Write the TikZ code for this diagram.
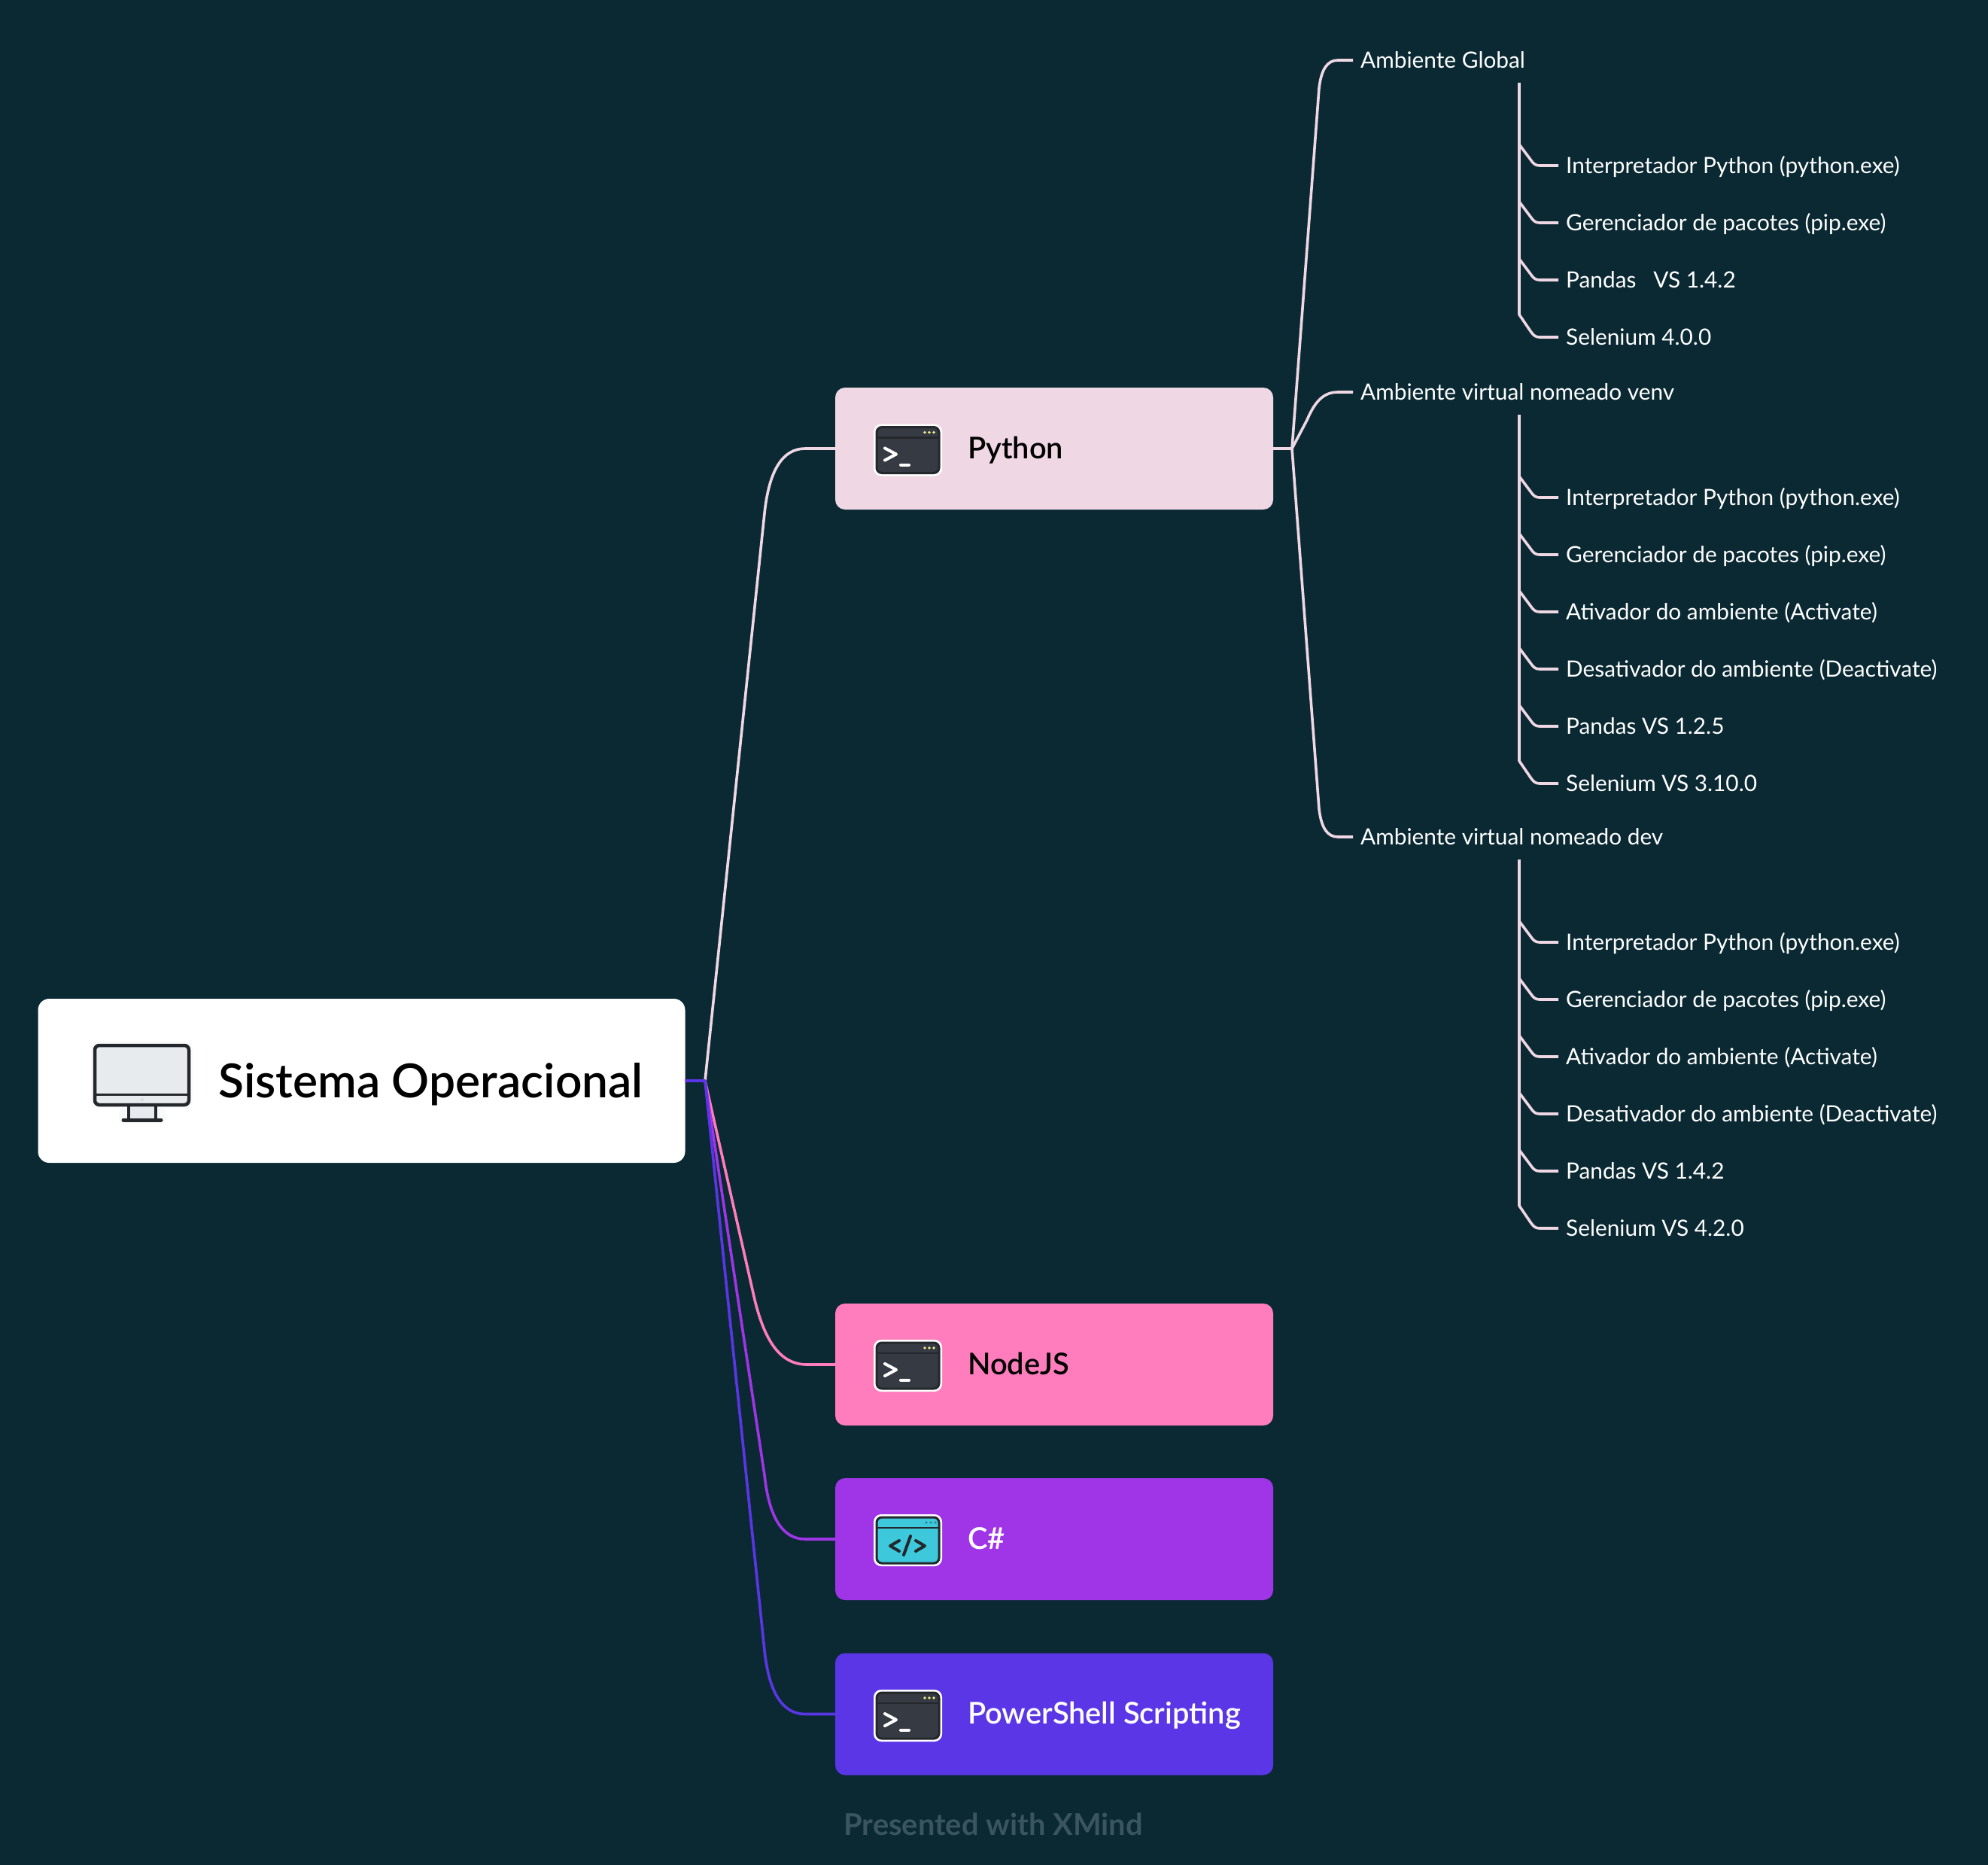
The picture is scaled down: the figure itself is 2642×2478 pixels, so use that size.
\documentclass[tikz,border=0pt]{standalone}
\usepackage{fontspec}
\setmainfont{Lato}
\newfontfamily\medfont{Lato Semibold}
\definecolor{bgdark}{HTML}{0A2933}
\definecolor{pythonc}{HTML}{EFD7E4}
\definecolor{nodec}{HTML}{FF7DBD}
\definecolor{csharpc}{HTML}{A035E8}
\definecolor{shellc}{HTML}{5B36E6}
\definecolor{iconink}{HTML}{24272C}
\definecolor{iconbody}{HTML}{363A42}
\definecolor{iconcyan}{HTML}{3DC8DC}
\definecolor{iconscreen}{HTML}{E8EBEE}
\definecolor{footc}{HTML}{3A5560}
\tikzset{
  topicbox/.style={rectangle, rounded corners=13pt, minimum width=582pt, minimum height=162pt, inner sep=0pt},
  topictext/.style={anchor=west, inner sep=0pt, font=\medfont\fontsize{39.8}{46}\selectfont, text height=28pt, text depth=0pt},
  leaftext/.style={anchor=west, inner xsep=10pt, inner ysep=0pt, text=white, font=\fontsize{29.8}{35}\selectfont, text height=21pt, text depth=0pt},
  linkline/.style={line width=3.6pt, line join=round},
}
\begin{document}
\begin{tikzpicture}[x=1pt,y=-1pt]
\useasboundingbox (0,0) rectangle (2642,2478);
\fill[bgdark] (0,0) rectangle (2642,2478);
% main boxes
\node[topicbox, fill=white, minimum width=860pt, minimum height=218pt, rounded corners=15pt] (root) at (480.5,1436) {};
\node[topicbox, fill=pythonc] (python) at (1401,596) {};
\node[topicbox, fill=nodec] (nodejs) at (1401,1813) {};
\node[topicbox, fill=csharpc] (csharp) at (1401,2045) {};
\node[topicbox, fill=shellc] (shell) at (1401,2277.5) {};
\coordinate (rootjoin) at (937,1436);
\coordinate (pyjoin) at (1717,596);
% root links
\draw[linkline, pythonc] (root.east) -- (rootjoin) -- (1016,682) .. controls (1022,625) and (1040,596) .. (1070,596) -- (python.west);
\draw[linkline, nodec] (root.east) -- (rootjoin) -- (1003,1727) .. controls (1016,1780) and (1036,1813) .. (1072,1813) -- (nodejs.west);
\draw[linkline, csharpc] (root.east) -- (rootjoin) -- (1016,1960) .. controls (1022,2016) and (1040,2045) .. (1070,2045) -- (csharp.west);
\draw[linkline, shellc] (root.east) -- (rootjoin) -- (1016,2193) .. controls (1022,2249) and (1040,2277.5) .. (1070,2277.5) -- (shell.west);
% titles
\node[anchor=west, inner sep=0pt, font=\medfont\fontsize{62.3}{72}\selectfont, text height=44pt, text depth=0pt] (roottext) at (290,1436) {Sistema Operacional};
\node[topictext] (pythontext) at (1286,595) {Python};
\node[topictext] (nodetext) at (1286,1812) {NodeJS};
\node[topictext, text=white] (csharptext) at (1286,2044) {C\#};
\node[topictext, text=white] (shelltext) at (1286,2276.5) {PowerShell Scripting};
\node[inner sep=0pt, text=footc, font=\bfseries\fontsize{39.8}{46}\selectfont] (footer) at (1320,2424) {Presented with XMind};
% monitor icon
\begin{scope}[shift={(126,1389)}]
\fill[white!97!iconink, rounded corners=10pt] (-5,-5) rectangle (130,84);
\fill[white!97!iconink, rounded corners=6pt] (32,84) rectangle (94,104);
\draw[line width=4.5pt, iconink, fill=iconscreen] (45,79) rectangle (81,99);
\draw[line width=4.5pt, iconink, fill=iconscreen, rounded corners=6pt] (0,0) rectangle (125,79);
\draw[line width=3pt, iconink] (0,65) -- (125,65);
\fill[black!15] (63,72) circle (2pt);
\draw[line width=5pt, iconink, line cap=round] (38,99) -- (88,99);
\end{scope}
% terminal icon python
\begin{scope}[shift={(1161,563.5)}]
\fill[white, rounded corners=10pt] (0,0) rectangle (91,69);
\draw[line width=3pt, iconink, fill=iconbody, rounded corners=7pt] (4,4) rectangle (87,65);
\draw[line width=2.5pt, iconink] (4,18) -- (87,18);
\fill[iconscreen!60!yellow] (68,11) circle (1.8pt) (74,11) circle (1.8pt) (80,11) circle (1.8pt);
\draw[line width=4pt, white, line cap=round, line join=round] (15,32) -- (30,40) -- (15,48);
\draw[line width=4pt, white, line cap=round] (36,54) -- (47,54);
\end{scope}
% terminal icon nodejs
\begin{scope}[shift={(1161,1780)}]
\fill[white, rounded corners=10pt] (0,0) rectangle (91,69);
\draw[line width=3pt, iconink, fill=iconbody, rounded corners=7pt] (4,4) rectangle (87,65);
\draw[line width=2.5pt, iconink] (4,18) -- (87,18);
\fill[iconscreen!60!yellow] (68,11) circle (1.8pt) (74,11) circle (1.8pt) (80,11) circle (1.8pt);
\draw[line width=4pt, white, line cap=round, line join=round] (15,32) -- (30,40) -- (15,48);
\draw[line width=4pt, white, line cap=round] (36,54) -- (47,54);
\end{scope}
% code icon csharp
\begin{scope}[shift={(1161,2012)}]
\fill[white, rounded corners=10pt] (0,0) rectangle (91,69);
\draw[line width=3pt, iconink, fill=iconcyan, rounded corners=7pt] (4,4) rectangle (87,65);
\draw[line width=2.5pt, iconink] (4,18) -- (87,18);
\fill[iconcyan!70!black] (70,11) circle (1.8pt) (76,11) circle (1.8pt) (82,11) circle (1.8pt);
\draw[line width=4pt, iconink, line cap=round, line join=round] (34,35) -- (22,42) -- (34,49);
\draw[line width=4pt, iconink, line cap=round] (49,29) -- (40,54);
\draw[line width=4pt, iconink, line cap=round, line join=round] (56,35) -- (68,42) -- (56,49);
\end{scope}
% terminal icon shell
\begin{scope}[shift={(1161,2245)}]
\fill[white, rounded corners=10pt] (0,0) rectangle (91,69);
\draw[line width=3pt, iconink, fill=iconbody, rounded corners=7pt] (4,4) rectangle (87,65);
\draw[line width=2.5pt, iconink] (4,18) -- (87,18);
\fill[iconscreen!60!yellow] (68,11) circle (1.8pt) (74,11) circle (1.8pt) (80,11) circle (1.8pt);
\draw[line width=4pt, white, line cap=round, line join=round] (15,32) -- (30,40) -- (15,48);
\draw[line width=4pt, white, line cap=round] (36,54) -- (47,54);
\end{scope}
% environment headers
\node[leaftext] (global) at (1798,80) {Ambiente Global};
\node[leaftext] (venv) at (1798,521) {Ambiente virtual nomeado venv};
\node[leaftext] (dev) at (1798,1112) {Ambiente virtual nomeado dev};
\draw[linkline, pythonc] (python.east) -- (pyjoin) -- (1753,117) .. controls (1756,92) and (1764,80) .. (1778,80) -- (global.west);
\draw[linkline, pythonc] (python.east) -- (pyjoin) -- (1737,558) .. controls (1748,532) and (1760,521) .. (1778,521) -- (venv.west);
\draw[linkline, pythonc] (python.east) -- (pyjoin) -- (1753,1075) .. controls (1756,1100) and (1764,1112) .. (1778,1112) -- (dev.west);
% global leaves
\node[leaftext] (ga) at (2071,220) {Interpretador Python (python.exe)};
\node[leaftext] (gb) at (2071,296) {Gerenciador de pacotes (pip.exe)};
\node[leaftext] (gc) at (2071,372) {Pandas\ \ \ VS 1.4.2};
\node[leaftext] (gd) at (2071,448) {Selenium 4.0.0};
\draw[linkline, pythonc] (2019,110) -- (2019,418) -- (2034,440) .. controls (2038,446) and (2041,448) .. (2046,448) -- (gd.west);
\draw[linkline, pythonc] (2019,192) -- (2034,212) .. controls (2038,218) and (2041,220) .. (2046,220) -- (ga.west);
\draw[linkline, pythonc] (2019,268) -- (2034,288) .. controls (2038,294) and (2041,296) .. (2046,296) -- (gb.west);
\draw[linkline, pythonc] (2019,344) -- (2034,364) .. controls (2038,370) and (2041,372) .. (2046,372) -- (gc.west);
% venv leaves
\node[leaftext] (va) at (2071,661) {Interpretador Python (python.exe)};
\node[leaftext] (vb) at (2071,737) {Gerenciador de pacotes (pip.exe)};
\node[leaftext] (vc) at (2071,813) {Ativador do ambiente (Activate)};
\node[leaftext] (vd) at (2071,889) {Desativador do ambiente (Deactivate)};
\node[leaftext] (ve) at (2071,965) {Pandas VS 1.2.5};
\node[leaftext] (vf) at (2071,1041) {Selenium VS 3.10.0};
\draw[linkline, pythonc] (2019,551) -- (2019,1011) -- (2034,1033) .. controls (2038,1039) and (2041,1041) .. (2046,1041) -- (vf.west);
\draw[linkline, pythonc] (2019,633) -- (2034,653) .. controls (2038,659) and (2041,661) .. (2046,661) -- (va.west);
\draw[linkline, pythonc] (2019,709) -- (2034,729) .. controls (2038,735) and (2041,737) .. (2046,737) -- (vb.west);
\draw[linkline, pythonc] (2019,785) -- (2034,805) .. controls (2038,811) and (2041,813) .. (2046,813) -- (vc.west);
\draw[linkline, pythonc] (2019,861) -- (2034,881) .. controls (2038,887) and (2041,889) .. (2046,889) -- (vd.west);
\draw[linkline, pythonc] (2019,937) -- (2034,957) .. controls (2038,963) and (2041,965) .. (2046,965) -- (ve.west);
% dev leaves
\node[leaftext] (da) at (2071,1252) {Interpretador Python (python.exe)};
\node[leaftext] (db) at (2071,1328) {Gerenciador de pacotes (pip.exe)};
\node[leaftext] (dc) at (2071,1404) {Ativador do ambiente (Activate)};
\node[leaftext] (dd) at (2071,1480) {Desativador do ambiente (Deactivate)};
\node[leaftext] (de) at (2071,1556) {Pandas VS 1.4.2};
\node[leaftext] (df) at (2071,1632) {Selenium VS 4.2.0};
\draw[linkline, pythonc] (2019,1142) -- (2019,1602) -- (2034,1624) .. controls (2038,1630) and (2041,1632) .. (2046,1632) -- (df.west);
\draw[linkline, pythonc] (2019,1224) -- (2034,1244) .. controls (2038,1250) and (2041,1252) .. (2046,1252) -- (da.west);
\draw[linkline, pythonc] (2019,1300) -- (2034,1320) .. controls (2038,1326) and (2041,1328) .. (2046,1328) -- (db.west);
\draw[linkline, pythonc] (2019,1376) -- (2034,1396) .. controls (2038,1402) and (2041,1404) .. (2046,1404) -- (dc.west);
\draw[linkline, pythonc] (2019,1452) -- (2034,1472) .. controls (2038,1478) and (2041,1480) .. (2046,1480) -- (dd.west);
\draw[linkline, pythonc] (2019,1528) -- (2034,1548) .. controls (2038,1554) and (2041,1556) .. (2046,1556) -- (de.west);
\end{tikzpicture}
\end{document}
